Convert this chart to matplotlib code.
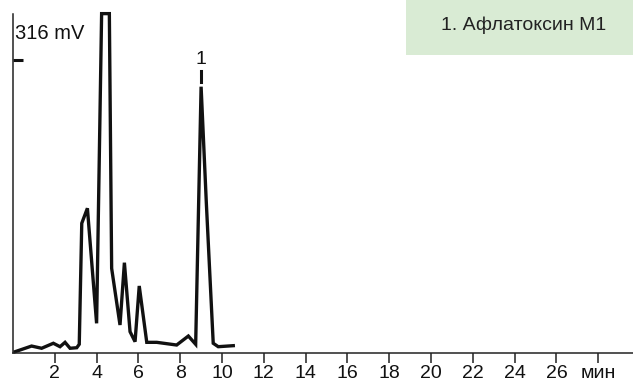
import matplotlib
matplotlib.use("Agg")
import matplotlib.pyplot as plt

# Chromatogram trace (time in minutes, signal in mV)
time_min = [0.10, 0.89, 1.37, 1.93, 2.25, 2.49, 2.73, 3.05, 3.17, 3.29, 3.56, 4.00,
            4.24, 4.61, 4.72, 5.12, 5.33, 5.60, 5.84, 6.04, 6.40, 6.88, 7.83, 8.39,
            8.74, 9.00, 9.25, 9.58, 9.82, 10.54]
signal_mv = [1.4, 7.5, 5.1, 10.5, 6.8, 11.5, 5.1, 5.7, 9.4, 139.9, 156.1, 32.0,
             366, 366, 91.3, 30.2, 97.4, 23.0, 12.2, 72.3, 11.5, 11.5, 8.6, 18.3,
             9.4, 287.2, 162, 10.5, 6.8, 7.9]

x_ticks = [2, 4, 6, 8, 10, 12, 14, 16, 18, 20, 22, 24, 26, 28]
x_tick_labels = ["2", "4", "6", "8", "10", "12", "14", "16", "18", "20", "22", "24", "26", "мин"]
y_tick_value = 316
y_label = "316 mV"
peak_time = 9.00
peak_label = "1"
legend_text = "1. Афлатоксин М1"

plt.rcParams['font.family'] = ['Liberation Sans', 'DejaVu Sans']

fig = plt.figure(figsize=(6.33, 3.85), dpi=100)
ax = fig.add_axes([13/633, 32/385, 620/633, 339/385])

ax.plot(time_min, signal_mv, color="#111111", lw=2.4, clip_on=False,
        solid_joinstyle="miter")

ax.set_xlim(0, 620/20.9)
ax.set_ylim(0, 365.6)

for s in ["top", "right"]:
    ax.spines[s].set_visible(False)
for s in ["left", "bottom"]:
    ax.spines[s].set_linewidth(1.1)
    ax.spines[s].set_color("#222222")

ax.set_xticks(x_ticks)
ax.set_xticklabels(x_tick_labels, fontsize=14, color="#111111")
ax.tick_params(axis="x", direction="out", length=7.5, width=1.1, pad=1.5, color="#222222")

ax.set_yticks([y_tick_value])
ax.set_yticklabels([""])
ax.tick_params(axis="y", direction="in", length=7, width=2.2, color="#111111")

ax.text(0.1, 345, y_label, fontsize=14.5, color="#111111", va="center", ha="left")

# peak marker
ax.plot([peak_time, peak_time], [292, 304], color="#111111", lw=2.2)
ax.text(peak_time, 317, peak_label, fontsize=14, ha="center", va="center", color="#111111")

# legend box
fig.patches.append(plt.Rectangle((406/633, 1 - 55/385), 227/633, 55/385,
                                 transform=fig.transFigure, facecolor="#d9ebd4",
                                 edgecolor="none", zorder=0))
fig.text(524/633, 1 - 25/385, legend_text, fontsize=14, ha="center", va="center",
         color="#222222")

fig.savefig("out.png", dpi=100)
